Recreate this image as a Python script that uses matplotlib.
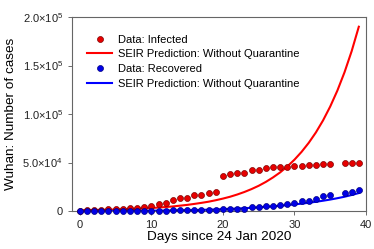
import matplotlib.pyplot as plt

plt.rcParams['font.family'] = ['Liberation Sans', 'DejaVu Sans']
plt.rcParams['mathtext.fontset'] = 'custom'
plt.rcParams['mathtext.rm'] = 'Liberation Sans'

# observed data (day 36 missing)
days = [0, 1, 2, 3, 4, 5, 6, 7, 8, 9, 10, 11, 12, 13, 14, 15, 16, 17, 18, 19,
        20, 21, 22, 23, 24, 25, 26, 27, 28, 29, 30, 31, 32, 33, 34, 35, 37, 38, 39]
infected = [495, 572, 618, 698, 1590, 1905, 2261, 2639, 3215, 4109, 5142, 7500, 7800,
            11000, 13000, 13300, 16500, 16800, 19000, 19300,
            36000, 38000, 39000, 39100, 42500, 42600, 44800, 45000, 45200, 45300,
            46000, 46800, 47000, 47500, 48000, 48300, 49000, 49100, 49200]
recovered = [30, 40, 50, 60, 80, 100, 120, 150, 200, 250, 300, 350, 450, 550, 650, 800,
             900, 1100, 1300, 1500, 1700, 2000, 2300, 2500, 4000, 4300, 5000, 5500,
             6000, 7000, 8000, 10000, 10100, 12500, 15000, 17000, 19000, 19500, 21200]

# SEIR prediction curves, read per day
pred_days = list(range(40))
pred_infected = [800, 900, 1000, 1100, 1300, 1500, 1800, 2000, 2300, 2700,
                 3100, 3600, 4100, 4700, 5500, 6300, 7300, 8400, 9600, 11100,
                 12800, 14700, 17000, 19600, 22600, 26000, 30000, 34600, 39800, 45900,
                 52900, 61000, 70300, 81000, 93400, 107700, 124100, 143000, 164800, 190000]
pred_recovered = [0, 20, 40, 60, 80, 100, 130, 160, 200, 250,
                  300, 370, 450, 550, 650, 800, 950, 1150, 1350, 1600,
                  1900, 2200, 2500, 2900, 3300, 3800, 4300, 4800, 5400, 6100,
                  6800, 7600, 8500, 9500, 10600, 11800, 13200, 14700, 16500, 18500]

yticks = [0, 50000, 100000, 150000, 200000]
ytick_labels = ['0', r'$\mathregular{5.0{\times}10^{4}}$', r'$\mathregular{1.0{\times}10^{5}}$',
                r'$\mathregular{1.5{\times}10^{5}}$', r'$\mathregular{2.0{\times}10^{5}}$']

fig = plt.figure(figsize=(3.74, 2.49), dpi=100)
ax = fig.add_axes([0.1925, 0.1526, 0.786, 0.779])

ax.plot(days, infected, 'o', color='#e60000', mec='#800000', mew=0.5, ms=4.3,
        clip_on=False, label='Data: Infected', zorder=3)
ax.plot(pred_days, pred_infected, color='#ff0000', lw=1.5,
        label='SEIR Prediction: Without Quarantine', zorder=2)
ax.plot(days, recovered, 'o', color='#0000e6', mec='#000080', mew=0.5, ms=4.3,
        clip_on=False, label='Data: Recovered', zorder=4)
ax.plot(pred_days, pred_recovered, color='#0000ff', lw=1.5,
        label='SEIR Prediction: Without Quarantine', zorder=2)

ax.set_xlim(-1.1, 40)
ax.set_ylim(0, 200000)
ax.set_xticks([0, 10, 20, 30, 40])
ax.set_yticks(yticks)
ax.set_yticklabels(ytick_labels)
ax.tick_params(direction='out', length=3, width=0.6, colors='#555555',
               labelcolor='#222222', labelsize=8)
for s in ax.spines.values():
    s.set_color('#666666')
    s.set_linewidth(0.8)

ax.set_xlabel('Days since 24 Jan 2020', fontsize=9.7, labelpad=1)
ax.set_ylabel('Wuhan: Number of cases', fontsize=9.7, labelpad=4)

ax.legend(loc='upper left', bbox_to_anchor=(0.02, 0.955), frameon=False, fontsize=8,
          handlelength=2.3, handletextpad=0.5, labelspacing=0.42, borderaxespad=0.4)

plt.savefig('out.png', dpi=100)
